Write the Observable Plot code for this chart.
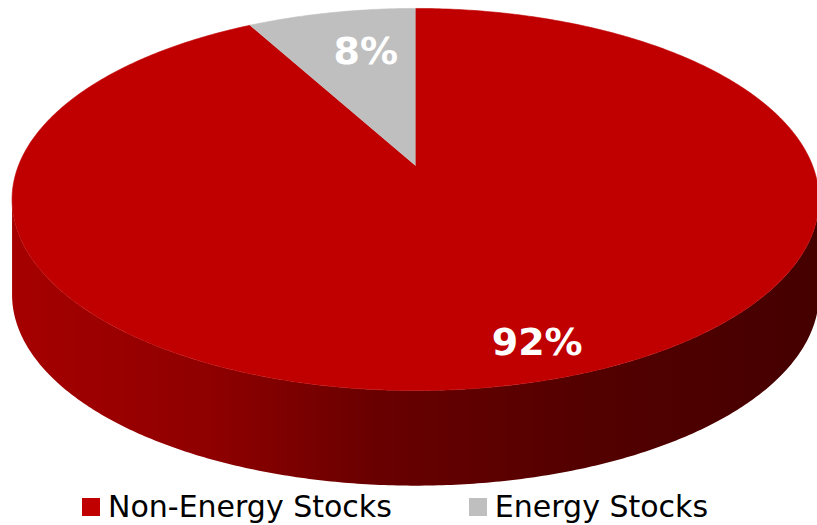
<!DOCTYPE html>
<html><head><meta charset="utf-8">
<script src="https://cdn.jsdelivr.net/npm/d3@7"></script>
<script src="https://cdn.jsdelivr.net/npm/@observablehq/plot@0.6"></script>
<style>
body{margin:0;background:#fff;width:817px;height:525px;overflow:hidden;font-family:"DejaVu Sans",sans-serif;}
#chart svg{display:block}
.legend{display:flex;align-items:center;height:37px;padding-left:82px;font-size:30px;color:#000;white-space:nowrap}
.item{display:flex;align-items:center;margin-right:77px}
.sw{width:18px;height:18px;margin-right:8px;flex:none}
</style></head><body>
<div id="chart"></div>
<div class="legend" id="legend"></div>
<script>
const categories = ["Non-Energy Stocks", "Energy Stocks"];
const shares = [92, 8];
const labels = ["92%", "8%"];
const colors = ["#C00000", "#BFBFBF"];

const W = 817, H = 488;
const persp = -0.178;   // perspective factor
const depth = 0.514;    // side height in y-domain units

function proj(u, v) { const d = 1 + persp * v; return {x: u / d, y: v / d}; }
// a: angle clockwise from 12 o'clock (far side)
function pt(a, r = 1) { return proj(r * Math.sin(a), -r * Math.cos(a)); }

const total = d3.sum(shares);
let acc = 0;
const slices = categories.map((name, i) => {
  const a0 = acc / total * 2 * Math.PI;
  acc += shares[i];
  const a1 = acc / total * 2 * Math.PI;
  const n = Math.max(8, Math.ceil((a1 - a0) / 0.01));
  const pts = [proj(0, 0)];
  for (let k = 0; k <= n; k++) pts.push(pt(a0 + (a1 - a0) * k / n));
  return {name, share: shares[i], color: colors[i], label: labels[i], a0, a1, pts};
});

// side (front) of the cylinder, between silhouette points
const aR = Math.acos(persp), aL = 2 * Math.PI - aR;
const front = d3.range(0, 301).map(k => pt(aR + (aL - aR) * k / 300));
const sidePts = [...front, ...front.slice().reverse().map(p => ({x: p.x, y: p.y + depth}))];

const labelData = slices.map(s => {
  const mid = (s.a0 + s.a1) / 2;
  const r = s.share < 20 ? 0.7 : 0.86;
  return {...pt(mid, r), text: s.label};
});
const labelOffsets = [[22, -4], [12, -2]];

const plot = Plot.plot({
  width: W, height: H, margin: 0,
  x: {domain: [-1, 1], range: [415 - 397, 415 + 397]},
  y: {domain: [-1, 1], range: [165 - 185, 165 + 185]},
  axis: null,
  style: {background: "transparent"},
  marks: [
    Plot.line(sidePts, {x: "x", y: "y", fill: "url(#sideGrad)", stroke: "none"}),
    ...slices.map(s => Plot.line(s.pts, {x: "x", y: "y", fill: s.color, stroke: s.color, strokeWidth: 0.6})),
    ...labelData.map((d, i) => Plot.text([d], {x: "x", y: "y", text: "text", fill: "white",
      fontSize: 38, fontWeight: "bold", fontFamily: "DejaVu Sans", dx: labelOffsets[i][0], dy: labelOffsets[i][1]}))
  ]
});

const defs = d3.select(plot).insert("defs", ":first-child");
const g = defs.append("linearGradient").attr("id", "sideGrad").attr("x1", 0).attr("x2", 1).attr("y1", 0).attr("y2", 0);
[["0%", "#A60000"], ["25%", "#8E0000"], ["45%", "#690000"], ["70%", "#540000"], ["100%", "#450000"]]
  .forEach(([o, c]) => g.append("stop").attr("offset", o).attr("stop-color", c));

document.getElementById("chart").appendChild(plot);

const legend = d3.select("#legend");
categories.forEach((c, i) => {
  const it = legend.append("div").attr("class", "item");
  it.append("div").attr("class", "sw").style("background", colors[i]);
  it.append("span").text(c);
});
</script>
</body></html>
